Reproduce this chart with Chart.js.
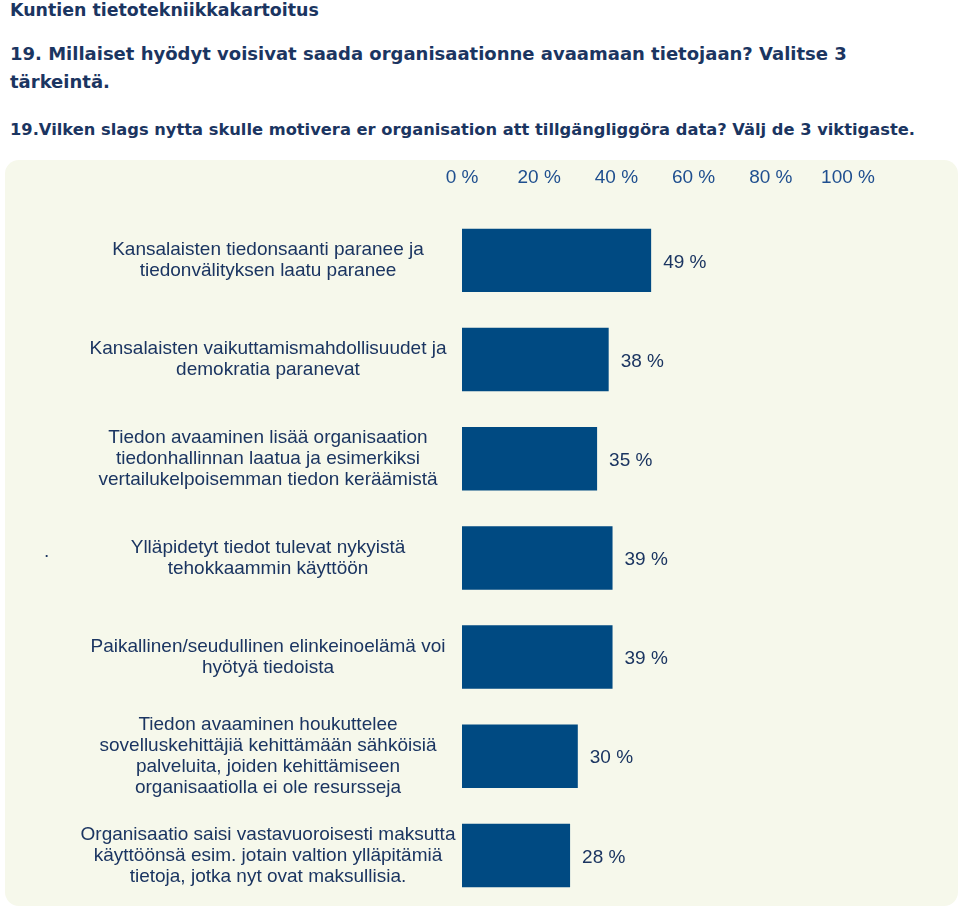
<!DOCTYPE html>
<html><head><meta charset="utf-8">
<script src="https://cdn.jsdelivr.net/npm/chart.js@4"></script>
<style>
body{margin:0;width:960px;height:910px;background:#fff;font-family:"DejaVu Sans",Verdana,sans-serif;position:relative;overflow:hidden}
.t{position:absolute;left:10px;font-weight:bold;color:#1b3561;white-space:nowrap}
#panel{position:absolute;left:5px;top:160px;width:953px;height:746px;background:#f6f8eb;border-radius:14px}
canvas{position:absolute;left:0;top:0}
</style></head><body>
<div class="t" style="top:0px;font-size:17.4px">Kuntien tietotekniikkakartoitus</div>
<div class="t" style="top:40px;font-size:18px;line-height:28px">19. Millaiset hyödyt voisivat saada organisaationne avaamaan tietojaan? Valitse 3<br>tärkeintä.</div>
<div class="t" style="top:120px;font-size:16.3px">19.Vilken slags nytta skulle motivera er organisation att tillgängliggöra data? Välj de 3 viktigaste.</div>
<div id="panel"></div>
<canvas id="c" width="960" height="910"></canvas>
<script>
const categories=[
["Kansalaisten tiedonsaanti paranee ja","tiedonvälityksen laatu paranee"],
["Kansalaisten vaikuttamismahdollisuudet ja","demokratia paranevat"],
["Tiedon avaaminen lisää organisaation","tiedonhallinnan laatua ja esimerkiksi","vertailukelpoisemman tiedon keräämistä"],
["Ylläpidetyt tiedot tulevat nykyistä","tehokkaammin käyttöön"],
["Paikallinen/seudullinen elinkeinoelämä voi","hyötyä tiedoista"],
["Tiedon avaaminen houkuttelee","sovelluskehittäjiä kehittämään sähköisiä","palveluita, joiden kehittämiseen","organisaatiolla ei ole resursseja"],
["Organisaatio saisi vastavuoroisesti maksutta","käyttöönsä esim. jotain valtion ylläpitämiä","tietoja, jotka nyt ovat maksullisia."]];
const values=[49,38,35,39,39,30,28];
const tickValues=[0,20,40,60,80,100];
const F='"Liberation Sans", Arial, sans-serif';
const labelPlugin={id:'lbl',afterDatasetsDraw(ch){
 const c=ch.ctx,y=ch.scales.y,x=ch.scales.x;
 c.save();c.font='19px '+F;c.fillStyle='#1b3561';c.textBaseline='middle';
 categories.forEach((lines,i)=>{const cy=y.getPixelForValue(i);const lh=21;
  c.textAlign='center';
  lines.forEach((l,j)=>c.fillText(l,268,cy+(j-(lines.length-1)/2)*lh));
  c.textAlign='left';
  c.fillText(values[i]+' %',x.getPixelForValue(values[i])+12,cy+2);
 });
 c.fillText('.',44,y.getPixelForValue(3)-6);
 c.restore();}};
new Chart(document.getElementById('c'),{type:'bar',
data:{labels:categories.map((_,i)=>i),datasets:[{data:values,backgroundColor:'#004a82',categoryPercentage:1,barPercentage:0.64}]},
options:{indexAxis:'y',responsive:false,animation:false,events:[],
layout:{padding:{left:462,right:112,top:152,bottom:5}},
plugins:{legend:{display:false},tooltip:{enabled:false}},
scales:{x:{position:'top',min:0,max:100,grid:{display:false},border:{display:false},
 afterBuildTicks(a){a.ticks=tickValues.map(v=>({value:v}));},
 ticks:{color:'#1f4f8f',font:{size:19,family:F},padding:14,callback:v=>v+' %'}},
 y:{display:false}}},
plugins:[labelPlugin]});
</script></body></html>
